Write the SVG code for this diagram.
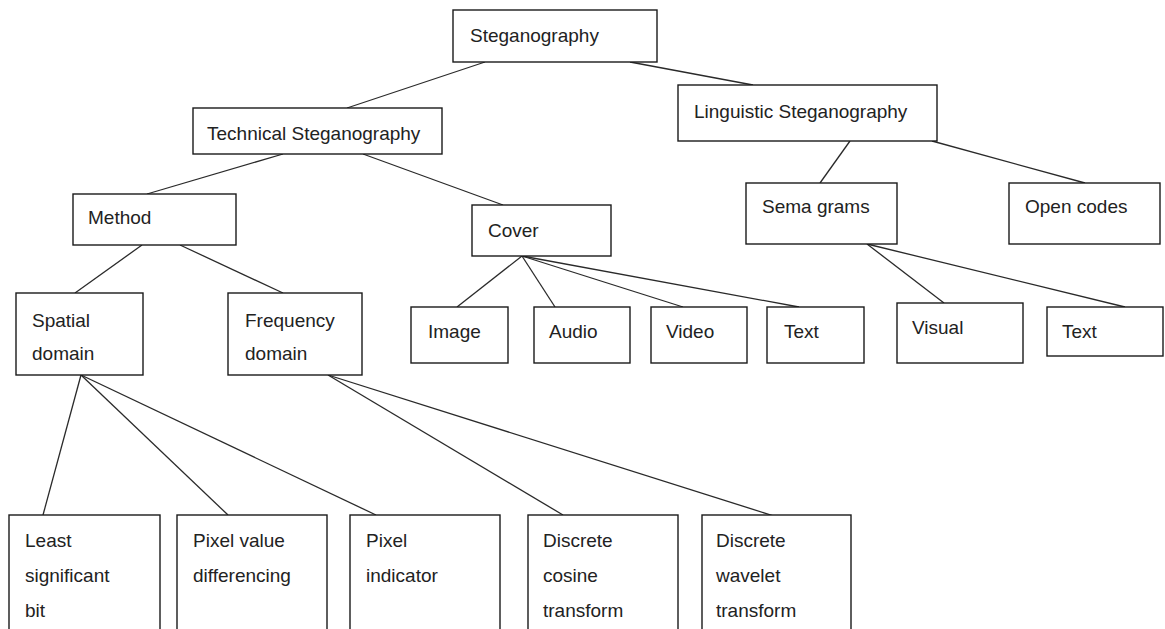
<svg xmlns="http://www.w3.org/2000/svg" width="1165" height="629" viewBox="0 0 1165 629">
<style>
.box{fill:#fff;stroke:#1a1a1a;stroke-width:1.4}
.lbl{font-family:"Liberation Sans",Arial,sans-serif;font-size:19px;fill:#222}
.edge{stroke:#2a2a2a;stroke-width:1.3;fill:none}
</style>
<rect width="1165" height="629" fill="#fff"/>
<g id="connectors">
<line class="edge" x1="485" y1="62" x2="347" y2="108"/>
<line class="edge" x1="630" y1="62" x2="753" y2="85"/>
<line class="edge" x1="283" y1="154" x2="147" y2="194"/>
<line class="edge" x1="363" y1="154" x2="503" y2="205"/>
<line class="edge" x1="850" y1="141" x2="820" y2="183"/>
<line class="edge" x1="932" y1="141" x2="1085" y2="183"/>
<line class="edge" x1="142" y1="245" x2="75" y2="293"/>
<line class="edge" x1="180" y1="245" x2="283" y2="293"/>
<line class="edge" x1="522" y1="256" x2="457" y2="307"/>
<line class="edge" x1="522" y1="256" x2="555" y2="307"/>
<line class="edge" x1="522" y1="256" x2="683" y2="307"/>
<line class="edge" x1="522" y1="256" x2="799" y2="307"/>
<line class="edge" x1="867" y1="244" x2="944" y2="303"/>
<line class="edge" x1="867" y1="244" x2="1125" y2="307"/>
<line class="edge" x1="81" y1="375" x2="43" y2="515"/>
<line class="edge" x1="81" y1="375" x2="228" y2="515"/>
<line class="edge" x1="81" y1="375" x2="376" y2="515"/>
<line class="edge" x1="328" y1="375" x2="563" y2="515"/>
<line class="edge" x1="328" y1="375" x2="774" y2="516"/>
</g>
<g id="steganography"><rect class="box" x="453" y="10" width="204" height="52"/><text class="lbl" x="470" y="42">Steganography</text></g>
<g id="technical"><rect class="box" x="193" y="108" width="249" height="46"/><text class="lbl" x="207" y="140">Technical Steganography</text></g>
<g id="linguistic"><rect class="box" x="678" y="85" width="259" height="56"/><text class="lbl" x="694" y="118">Linguistic Steganography</text></g>
<g id="method"><rect class="box" x="73" y="194" width="163" height="51"/><text class="lbl" x="88" y="224">Method</text></g>
<g id="cover"><rect class="box" x="472" y="205" width="139" height="51"/><text class="lbl" x="488" y="237">Cover</text></g>
<g id="semagrams"><rect class="box" x="746" y="183" width="151" height="61"/><text class="lbl" x="762" y="213">Sema grams</text></g>
<g id="opencodes"><rect class="box" x="1009" y="183" width="151" height="61"/><text class="lbl" x="1025" y="213">Open codes</text></g>
<g id="spatial"><rect class="box" x="16" y="293" width="127" height="82"/><text class="lbl" x="32" y="327">Spatial</text><text class="lbl" x="32" y="360">domain</text></g>
<g id="frequency"><rect class="box" x="228" y="293" width="134" height="82"/><text class="lbl" x="245" y="327">Frequency</text><text class="lbl" x="245" y="360">domain</text></g>
<g id="image"><rect class="box" x="411" y="307" width="97" height="56"/><text class="lbl" x="428" y="338">Image</text></g>
<g id="audio"><rect class="box" x="534" y="307" width="96" height="56"/><text class="lbl" x="549" y="338">Audio</text></g>
<g id="video"><rect class="box" x="651" y="307" width="96" height="56"/><text class="lbl" x="666" y="338">Video</text></g>
<g id="text-cover"><rect class="box" x="767" y="307" width="97" height="56"/><text class="lbl" x="784" y="338">Text</text></g>
<g id="visual"><rect class="box" x="897" y="303" width="126" height="60"/><text class="lbl" x="912" y="334">Visual</text></g>
<g id="text-sema"><rect class="box" x="1047" y="307" width="116" height="49"/><text class="lbl" x="1062" y="338">Text</text></g>
<g id="lsb"><rect class="box" x="9" y="515" width="151" height="120"/><text class="lbl" x="25" y="547">Least</text><text class="lbl" x="25" y="582">significant</text><text class="lbl" x="25" y="617">bit</text></g>
<g id="pvd"><rect class="box" x="177" y="515" width="150" height="120"/><text class="lbl" x="193" y="547">Pixel value</text><text class="lbl" x="193" y="582">differencing</text></g>
<g id="pi"><rect class="box" x="350" y="515" width="150" height="120"/><text class="lbl" x="366" y="547">Pixel</text><text class="lbl" x="366" y="582">indicator</text></g>
<g id="dct"><rect class="box" x="528" y="515" width="150" height="120"/><text class="lbl" x="543" y="547">Discrete</text><text class="lbl" x="543" y="582">cosine</text><text class="lbl" x="543" y="617">transform</text></g>
<g id="dwt"><rect class="box" x="702" y="515" width="149" height="120"/><text class="lbl" x="716" y="547">Discrete</text><text class="lbl" x="716" y="582">wavelet</text><text class="lbl" x="716" y="617">transform</text></g>
</svg>
